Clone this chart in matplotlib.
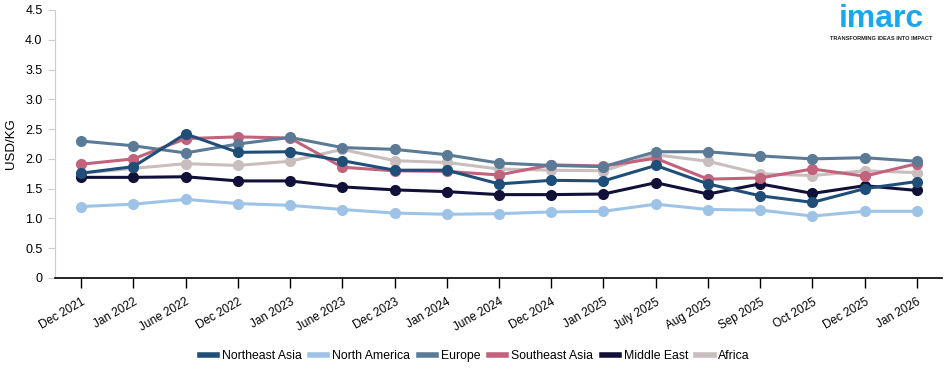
import matplotlib
matplotlib.use("Agg")
import matplotlib.pyplot as plt
from matplotlib.lines import Line2D

plt.rcParams['font.family'] = ['Liberation Sans', 'DejaVu Sans']

categories = ["Dec 2021", "Jan 2022", "June 2022", "Dec 2022", "Jan 2023", "June 2023",
              "Dec 2023", "Jan 2024", "June 2024", "Dec 2024", "Jan 2025", "July 2025",
              "Aug 2025", "Sep 2025", "Oct 2025", "Dec 2025", "Jan 2026"]

northeast_asia = [1.76, 1.87, 2.42, 2.11, 2.12, 1.97, 1.81, 1.81, 1.58, 1.64, 1.63, 1.89, 1.58, 1.38, 1.27, 1.50, 1.62]
north_america  = [1.20, 1.24, 1.32, 1.25, 1.22, 1.15, 1.09, 1.07, 1.08, 1.11, 1.12, 1.24, 1.15, 1.14, 1.04, 1.12, 1.12]
europe         = [2.30, 2.22, 2.10, 2.25, 2.36, 2.19, 2.16, 2.07, 1.93, 1.89, 1.87, 2.12, 2.12, 2.05, 2.00, 2.02, 1.96]
southeast_asia = [1.91, 2.00, 2.34, 2.37, 2.35, 1.86, 1.80, 1.79, 1.73, 1.90, 1.88, 2.01, 1.66, 1.68, 1.83, 1.71, 1.92]
middle_east    = [1.69, 1.69, 1.70, 1.63, 1.63, 1.53, 1.48, 1.45, 1.40, 1.40, 1.41, 1.60, 1.41, 1.58, 1.42, 1.55, 1.47]
africa         = [1.76, 1.84, 1.92, 1.89, 1.96, 2.16, 1.97, 1.94, 1.83, 1.81, 1.80, 2.07, 1.96, 1.75, 1.72, 1.80, 1.77]

series = [
    ("Northeast Asia", northeast_asia, "#1f4e79"),
    ("North America", north_america, "#9dc3e6"),
    ("Europe", europe, "#5b7a96"),
    ("Southeast Asia", southeast_asia, "#c2627c"),
    ("Middle East", middle_east, "#111038"),
    ("Africa", africa, "#c9bdbd"),
]

fig = plt.figure(figsize=(9.5, 3.73), dpi=100)
ax = fig.add_axes([55/950, 1-278/373, (942-55)/950, (278-10)/373])

x = list(range(len(categories)))
for z, (name, vals, col) in enumerate(reversed(series)):
    ax.plot(x, vals, color=col, lw=2.2, marker='o', ms=7, zorder=3+z,
            solid_capstyle='round')

leg_handles = [Line2D([0], [0], color=c, lw=4) for _, _, c in series]
fig.legend(leg_handles, [n for n, _, _ in series], loc='center',
           bbox_to_anchor=(475/950, 1 - 356/373),
           ncol=6, frameon=False, fontsize=8.8, handlelength=1.4, handletextpad=0.4,
           columnspacing=0.7)

ax.set_xlim(-0.5, len(categories) - 1 + 0.48)
ax.set_ylim(0, 4.5)
ax.set_yticks([0, 0.5, 1, 1.5, 2, 2.5, 3, 3.5, 4, 4.5])
ax.set_yticklabels(["0", "0.5", "1.0", "1.5", "2.0", "2.5", "3.0", "3.5", "4.0", "4.5"], fontsize=9)
ax.set_xticks(x)
ax.set_xticklabels(categories, rotation=30, ha='right', rotation_mode='anchor', fontsize=8.5)
ax.tick_params(axis='x', length=7, width=1, color='black', pad=6)
ax.tick_params(axis='y', length=5, width=0.8, color='#cccccc', pad=4)
ax.set_ylabel("USD/KG", fontsize=9.5, labelpad=6)

for s in ['top', 'right']:
    ax.spines[s].set_visible(False)
ax.spines['left'].set_color('#cccccc')
ax.spines['left'].set_linewidth(0.8)
ax.spines['bottom'].set_color('black')
ax.spines['bottom'].set_linewidth(1.2)

fig.text(881/950, 1-19/373, "imarc", color="#18a8f0", fontsize=23, fontweight='bold',
         ha='center', va='center')
fig.text(881/950, 1-39/373, "TRANSFORMING IDEAS INTO IMPACT", color="#222222", fontsize=4.1,
         fontweight='bold', ha='center', va='center')

fig.savefig("out.png", dpi=100)
